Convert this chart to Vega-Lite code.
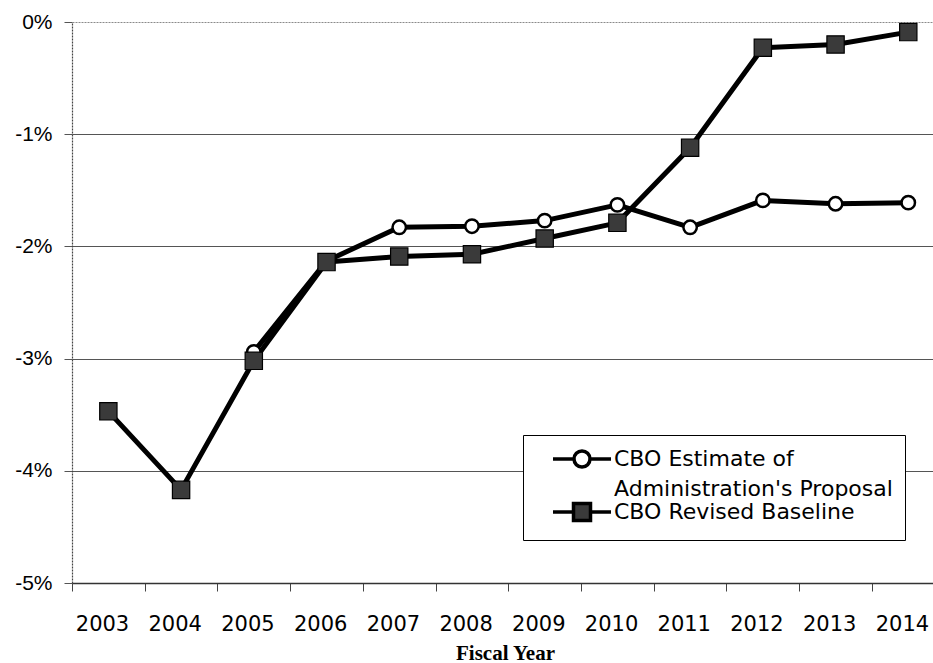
{
  "$schema": "https://vega.github.io/schema/vega-lite/v6.json",
  "width": 861,
  "height": 561,
  "autosize": "none",
  "padding": {"left": 72, "top": 22, "right": 0, "bottom": 80},
  "background": "white",
  "config": {
    "view": {"stroke": null},
    "font": "DejaVu Sans",
    "style": {"guide-label": {"lineHeight": 30}}
  },
  "data": {
    "values": [
      {"year": 2005, "series": "CBO Estimate of Administration's Proposal", "pct": -2.94},
      {"year": 2006, "series": "CBO Estimate of Administration's Proposal", "pct": -2.13},
      {"year": 2007, "series": "CBO Estimate of Administration's Proposal", "pct": -1.83},
      {"year": 2008, "series": "CBO Estimate of Administration's Proposal", "pct": -1.82},
      {"year": 2009, "series": "CBO Estimate of Administration's Proposal", "pct": -1.77},
      {"year": 2010, "series": "CBO Estimate of Administration's Proposal", "pct": -1.63},
      {"year": 2011, "series": "CBO Estimate of Administration's Proposal", "pct": -1.83},
      {"year": 2012, "series": "CBO Estimate of Administration's Proposal", "pct": -1.59},
      {"year": 2013, "series": "CBO Estimate of Administration's Proposal", "pct": -1.62},
      {"year": 2014, "series": "CBO Estimate of Administration's Proposal", "pct": -1.61},
      {"year": 2003, "series": "CBO Revised Baseline", "pct": -3.47},
      {"year": 2004, "series": "CBO Revised Baseline", "pct": -4.17},
      {"year": 2005, "series": "CBO Revised Baseline", "pct": -3.02},
      {"year": 2006, "series": "CBO Revised Baseline", "pct": -2.14},
      {"year": 2007, "series": "CBO Revised Baseline", "pct": -2.09},
      {"year": 2008, "series": "CBO Revised Baseline", "pct": -2.07},
      {"year": 2009, "series": "CBO Revised Baseline", "pct": -1.93},
      {"year": 2010, "series": "CBO Revised Baseline", "pct": -1.79},
      {"year": 2011, "series": "CBO Revised Baseline", "pct": -1.12},
      {"year": 2012, "series": "CBO Revised Baseline", "pct": -0.23},
      {"year": 2013, "series": "CBO Revised Baseline", "pct": -0.20},
      {"year": 2014, "series": "CBO Revised Baseline", "pct": -0.09}
    ]
  },
  "encoding": {
    "x": {
      "field": "year",
      "type": "quantitative",
      "scale": {"domain": [2002.5, 2014.34], "nice": false, "zero": false},
      "axis": {
        "values": [2003, 2004, 2005, 2006, 2007, 2008, 2009, 2010, 2011, 2012, 2013, 2014],
        "format": "d",
        "grid": false,
        "tickOffset": -36.36,
        "labelOffset": 30,
        "tickSize": 8,
        "tickColor": "#444444",
        "tickWidth": 1,
        "domainColor": "#333333",
        "domainWidth": 1.5,
        "labelFont": "DejaVu Sans",
        "labelFontSize": 21,
        "labelColor": "black",
        "labelPadding": 22,
        "labelFlush": false,
        "labelOverlap": false,
        "title": "Fiscal Year",
        "titleFont": "Liberation Serif",
        "titleFontSize": 21,
        "titleFontWeight": "bold",
        "titleColor": "black",
        "titleAlign": "center",
        "titleBaseline": "alphabetic",
        "titleX": 433,
        "titleY": 76
      }
    },
    "y": {
      "field": "pct",
      "type": "quantitative",
      "scale": {"domain": [-5, 0], "nice": false, "zero": false},
      "axis": {
        "values": [-5, -4, -3, -2, -1, 0],
        "labelExpr": "datum.value + '%'",
        "grid": true,
        "gridColor": {"condition": {"test": "datum.value === 0", "value": "#8a8a8a"}, "value": "#555555"},
        "gridDash": {"condition": {"test": "datum.value === 0", "value": [2, 1]}, "value": []},
        "gridWidth": 1,
        "tickSize": 8,
        "tickColor": "#555555",
        "domainColor": "#444444",
        "domainDash": [2, 1],
        "domainWidth": 1.2,
        "labelFont": "Liberation Sans",
        "labelFontSize": 21,
        "labelColor": "black",
        "labelPadding": 12,
        "labelFlush": false,
        "title": null
      }
    }
  },
  "layer": [
    {
      "mark": {"type": "line", "color": "black", "strokeWidth": 5, "strokeJoin": "round"},
      "encoding": {
        "detail": {"field": "series", "type": "nominal"},
        "order": {"field": "year", "type": "quantitative"}
      }
    },
    {
      "mark": {"type": "point", "filled": false, "opacity": 1, "stroke": "black"},
      "encoding": {
        "shape": {
          "condition": {"test": "datum.series === 'CBO Revised Baseline'", "value": "square"},
          "value": "circle"
        },
        "fill": {
          "condition": {"test": "datum.series === 'CBO Revised Baseline'", "value": "#3a3a3a"},
          "value": "white"
        },
        "size": {
          "condition": {"test": "datum.series === 'CBO Revised Baseline'", "value": 300},
          "value": 180
        },
        "strokeWidth": {
          "condition": {"test": "datum.series === 'CBO Revised Baseline'", "value": 1.2},
          "value": 2.5
        }
      }
    },
    {
      "transform": [{"filter": "datum.year < 0"}],
      "mark": {"type": "point", "filled": false, "opacity": 1, "stroke": "black", "strokeWidth": 3.5},
      "encoding": {
        "shape": {
          "field": "series",
          "type": "nominal",
          "scale": {
            "domain": ["CBO Estimate of Administration's Proposal", "CBO Revised Baseline"],
            "range": [
              "M-2.9,0H-0.8M0.8,0H2.9M0.8,0A0.8,0.8,0,1,1,-0.8,0A0.8,0.8,0,1,1,0.8,0Z",
              "M-2.9,0H-0.85M0.85,0H2.9M-0.85,-0.85H0.85V0.85H-0.85Z"
            ]
          },
          "legend": {
            "orient": "none",
            "legendX": 451,
            "legendY": 413,
            "title": null,
            "padding": 12,
            "symbolOffset": 35,
            "fillColor": "white",
            "strokeColor": "black",
            "symbolSize": 400,
            "symbolStrokeWidth": 3.5,
            "labelFont": "DejaVu Sans",
            "labelFontSize": 22,
            "labelColor": "black",
            "labelLimit": 400,
            "labelOffset": 20,
            "rowPadding": -5,
            "labelExpr": "datum.label === 'CBO Revised Baseline' ? datum.label : ['CBO Estimate of', \"Administration's Proposal\"]",
            "encode": {
              "legend": {
                "strokeWidth": {"value": 1.5}
              }
            }
          }
        },
        "fill": {
          "field": "series",
          "type": "nominal",
          "scale": {
            "domain": ["CBO Estimate of Administration's Proposal", "CBO Revised Baseline"],
            "range": ["white", "#3a3a3a"]
          },
          "legend": null
        }
      }
    }
  ]
}
